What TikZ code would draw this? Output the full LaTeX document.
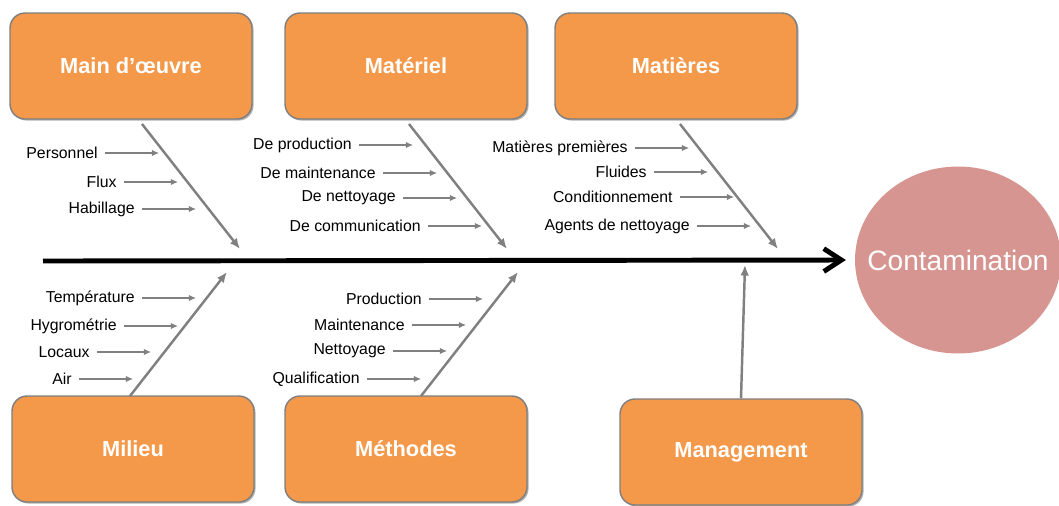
\documentclass[tikz,border=0pt]{standalone}
\usepackage{fontspec}
\setmainfont{Liberation Sans}
\usetikzlibrary{shapes, arrows.meta, shadows}
\definecolor{boxorange}{HTML}{F4984A}
\definecolor{boxline}{HTML}{7F7F7F}
\definecolor{bonegray}{HTML}{808080}
\definecolor{effectpink}{HTML}{D69591}

\begin{document}
\begin{tikzpicture}[x=0.02cm,y=-0.02cm,>=Latex,
	cause/.style={rectangle, rounded corners=0.3cm, draw=boxline, line width=0.8pt, fill=boxorange,
		minimum width=4.84cm, minimum height=2.12cm, text=white, font=\fontsize{12.4}{15}\selectfont\bfseries,
		drop shadow={shadow xshift=0.9pt, shadow yshift=-0.9pt, fill=black, opacity=0.3}},
	effect/.style={ellipse, fill=effectpink, minimum width=4.12cm, minimum height=3.74cm, inner sep=0pt,
		text=white, font=\fontsize{16}{19}\selectfont},
	cue/.style={anchor=east, inner xsep=4pt, inner ysep=0pt, font=\fontsize{9}{11}\selectfont}]
	\tikzset{bone/.style={draw=bonegray, line width=1.4pt, -{Latex[length=6pt,width=5pt]}},
		twig/.style={draw=bonegray, line width=0.6pt, -{Latex[length=4pt,width=3.5pt]}},
		spine/.style={draw=black, line width=2.8pt, -{Straight Barb[length=10pt,width=13pt]}, shorten >=5pt}}
	\useasboundingbox (0,0) rectangle (1059,505);

	% causes and effect
	\node[cause] (mo) at (131,66) {Main d’œuvre};
	\node[cause] (mat) at (406,66) {Matériel};
	\node[cause] (mp) at (676,66) {Matières};
	\node[cause] (mil) at (133,449) {Milieu};
	\node[cause] (meth) at (406,449) {Méthodes};
	\node[cause] (man) at (741,452) {Management};
	\node[effect] (cont) at (958,260) {\makebox[0pt]{Contamination}};

	% spine
	\coordinate (tail) at (43,261);
	\draw[spine] (tail) -- (cont.west);

	% bones
	\coordinate (mo root) at (142,124);
	\coordinate (mo tip) at (240,249);
	\coordinate (mat root) at (409,124);
	\coordinate (mat tip) at (507,249);
	\coordinate (mp root) at (680,124);
	\coordinate (mp tip) at (778,249);
	\coordinate (mil root) at (130,396);
	\coordinate (mil tip) at (227,272);
	\coordinate (meth root) at (421,396);
	\coordinate (meth tip) at (518,272);
	\coordinate (man tip) at (745,265);

	\path
		(mo root) edge[bone] (mo tip)
		(mat root) edge[bone] (mat tip)
		(mp root) edge[bone] (mp tip)
		(mil root) edge[bone] (mil tip)
		(meth root) edge[bone] (meth tip)
		(man.north) edge[bone] (man tip);

	% Main d'oeuvre
	\node[cue] (pers) at (105,153) {Personnel};
	\node[cue] (flux) at (124,182) {Flux};
	\node[cue] (hab) at (142,209) {Habillage};
	\draw[twig] (pers.east) -- ++(54,0);
	\draw[twig] (flux.east) -- ++(54,0);
	\draw[twig] (hab.east) -- ++(54,0);

	% Materiel
	\node[cue] (dprod) at (359,145) {De production};
	\node[cue] (dmaint) at (383,173) {De maintenance};
	\node[cue] (dnett) at (403,198) {De nettoyage};
	\node[cue] (dcomm) at (428,226) {De communication};
	\draw[twig] (dprod.east) -- ++(54,0);
	\draw[twig] (dmaint.east) -- ++(54,0);
	\draw[twig] (dnett.east) -- ++(54,0);
	\draw[twig] (dcomm.east) -- ++(54,0);

	% Matieres
	\node[cue] (prem) at (635,148) {Matières premières};
	\node[cue] (flu) at (654,172) {Fluides};
	\node[cue] (cond) at (680,197) {Conditionnement};
	\node[cue] (agent) at (697,226) {Agents de nettoyage};
	\draw[twig] (prem.east) -- ++(54,0);
	\draw[twig] (flu.east) -- ++(54,0);
	\draw[twig] (cond.east) -- ++(54,0);
	\draw[twig] (agent.east) -- ++(54,0);

	% Milieu
	\node[cue] (temp) at (142,298) {Température};
	\node[cue] (hygro) at (124,326) {Hygrométrie};
	\node[cue] (loc) at (97,352) {Locaux};
	\node[cue] (air) at (79,379) {Air};
	\draw[twig] (temp.east) -- ++(54,0);
	\draw[twig] (hygro.east) -- ++(54,0);
	\draw[twig] (loc.east) -- ++(54,0);
	\draw[twig] (air.east) -- ++(54,0);

	% Methodes
	\node[cue] (prod) at (429,299) {Production};
	\node[cue] (maint) at (412,325) {Maintenance};
	\node[cue] (nett) at (393,351) {Nettoyage};
	\node[cue] (qual) at (367,379) {Qualification};
	\draw[twig] (prod.east) -- ++(54,0);
	\draw[twig] (maint.east) -- ++(54,0);
	\draw[twig] (nett.east) -- ++(54,0);
	\draw[twig] (qual.east) -- ++(54,0);
\end{tikzpicture}
\end{document}
